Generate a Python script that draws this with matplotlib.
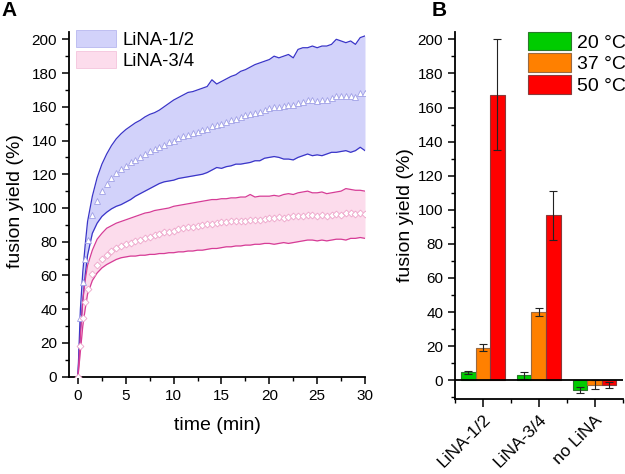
import matplotlib
matplotlib.use("Agg")
import matplotlib.pyplot as plt
import matplotlib.transforms as mtransforms
from matplotlib.patches import Patch
from matplotlib.ticker import MultipleLocator, FixedLocator

plt.rcParams['font.family'] = ['Liberation Sans', 'DejaVu Sans']

# ---------------- Panel A data (time course) ----------------
time_min = [0, 0.25, 0.5, 0.75, 1, 1.5, 2, 2.5, 3, 3.5, 4, 4.5, 5, 5.5, 6, 6.5, 7, 7.5,
            8, 8.5, 9, 9.5, 10, 10.5, 11, 11.5, 12, 12.5, 13, 13.5, 14, 14.5, 15, 15.5,
            16, 16.5, 17, 17.5, 18, 18.5, 19, 19.5, 20, 20.5, 21, 21.5, 22, 22.5, 23, 23.5,
            24, 24.5, 25, 25.5, 26, 26.5, 27, 27.5, 28, 28.5, 29, 29.5, 30]

lina12_mean = [0, 35, 56, 70, 81, 96, 104, 110, 114.5, 118, 121, 123, 125, 127, 128.5, 130, 132, 133.5,
               135, 136, 137.5, 139, 140, 141.5, 142.5, 143.5, 144.5, 145, 146, 147, 148.5, 149, 150, 151,
               152, 153, 154, 155, 155.5, 156.5, 157, 158, 159, 160, 160, 160.5, 161, 161, 162, 163,
               164, 164, 163.5, 164, 164, 165, 166.5, 166.5, 166.5, 166.5, 166, 168, 168]
lina12_upper = [1, 40, 62, 78, 92, 107, 118, 126, 132, 137, 141, 144, 146.5, 148.5, 150.5, 152, 154, 155.5,
                156.5, 158, 160, 162, 164, 165.5, 167, 168.5, 169, 170, 171, 172, 176, 173.5, 175, 176.5,
                178, 179, 181, 182, 183.5, 185, 186, 187, 188, 190, 189, 190, 191, 189, 194, 195,
                195, 196, 195, 196, 196, 197, 200, 199, 198, 199, 197, 201, 202]
lina12_lower = [1, 28, 45, 60, 72, 85, 91, 95, 97.5, 99.5, 101, 102, 103.5, 105, 107, 108.5, 110, 111.5,
                113, 114.5, 115.5, 116, 116.5, 117.5, 118, 118.5, 119, 119.5, 120, 121, 122.5, 124, 123.5, 124.5,
                125, 126, 126, 126.5, 127, 128, 128, 129.5, 130, 130.5, 130, 129, 129, 128.5, 130, 131,
                132, 131, 131.5, 131, 132, 133, 133, 133.5, 134, 133, 134, 136, 134]

lina34_mean = [0, 18, 35, 44, 52, 61, 66.5, 69.5, 72, 74.5, 76, 77.5, 78.5, 79.5, 80.5, 81, 82, 83,
               84, 84.5, 85.5, 86, 86.5, 87.5, 88, 88.5, 89, 89.5, 90, 90.5, 90.5, 91, 91.5, 91.5,
               92, 92, 92.5, 92.5, 93, 93, 93, 93.5, 94, 94, 94.5, 94, 94.5, 95, 95, 95.5,
               96, 96, 95.5, 96, 95.5, 96, 96.5, 96, 97, 97, 96.5, 97, 96.5]
lina34_upper = [0, 24, 45, 57, 66, 75, 81.5, 85, 88, 89.5, 91, 92, 93, 94, 95, 96, 97, 97.5,
                98.5, 99, 99.5, 100, 101, 101.5, 102, 102.5, 103, 103.5, 104, 104.5, 105, 105, 105.5, 105.5,
                106, 106, 106.5, 106.5, 108, 106.5, 107, 107, 107, 107.5, 107, 108, 108.5, 108, 109, 109.5,
                110, 109, 109, 109.5, 108.5, 109, 109.5, 110, 111.5, 111, 110.5, 110.5, 110]
lina34_lower = [0, 15, 30, 40, 49, 57, 61.5, 64.5, 66.5, 68, 69.5, 70.5, 71, 71.5, 71.5, 72, 72, 72.5,
                72.5, 73, 73, 73.5, 73.5, 74, 74, 74.5, 74.5, 75, 75, 75.5, 76, 76, 76.5, 77,
                77, 77.5, 77.5, 78, 78, 78.5, 78.5, 79, 79, 78.5, 79, 79.5, 79, 79.5, 80, 80.5,
                81, 81, 80.5, 81, 80.5, 81, 81.5, 81.5, 81, 82, 82, 82.5, 82]

series_labels = ["LiNA-1/2", "LiNA-3/4"]

# ---------------- Panel B data (bars) ----------------
bar_categories = ["LiNA-1/2", "LiNA-3/4", "no LiNA"]
temp_labels = ["20 °C", "37 °C", "50 °C"]
yield_20 = [4.7, 2.8, -5.6]
yield_37 = [19.0, 39.8, -2.7]
yield_50 = [167.5, 96.8, -2.9]
err_20 = [0.8, 2.0, 1.6]
err_37 = [2.0, 2.3, 2.6]
err_50 = [32.7, 14.5, 1.8]

# ---------------- Figure ----------------
fig = plt.figure(figsize=(6.25, 4.74), dpi=100)
W, H = 625, 474

def box(x0, y0, x1, y1):
    return [x0 / W, 1 - y1 / H, (x1 - x0) / W, (y1 - y0) / H]

axA = fig.add_axes(box(69, 31.7, 365, 376.7))
axB = fig.add_axes(box(455, 31.7, 622.5, 399))

blue_line = "#3a35c8"
blue_fill = "#d2d2fa"
pink_line = "#d63c96"
pink_fill = "#fcdcec"

axA.fill_between(time_min, lina12_lower, lina12_upper, color=blue_fill, lw=0, zorder=1)
axA.fill_between(time_min, lina34_lower, lina34_upper, color=pink_fill, lw=0, zorder=1)
for arr in (lina12_upper, lina12_lower):
    axA.plot(time_min, arr, color=blue_line, lw=0.9, zorder=2)
for arr in (lina34_upper, lina34_lower):
    axA.plot(time_min, arr, color=pink_line, lw=0.9, zorder=2)
axA.plot(time_min, lina12_mean, ls='none', marker='^', ms=4.4, mfc='white',
         mec='#a0a0e6', mew=0.6, zorder=3)
axA.plot(time_min, lina34_mean, ls='none', marker='D', ms=3.5, mfc='white',
         mec='#eea4ca', mew=0.6, zorder=3)

axA.set_xlim(-0.94, 30)
axA.set_ylim(0, 204.5)
axA.xaxis.set_major_locator(MultipleLocator(5))
axA.xaxis.set_minor_locator(MultipleLocator(2.5))
axA.yaxis.set_major_locator(MultipleLocator(20))
axA.yaxis.set_minor_locator(MultipleLocator(10))
axA.set_xlabel("time (min)", fontsize=14)
axA.xaxis.set_label_coords(0.5, -0.117)
axA.set_ylabel("fusion yield (%)", fontsize=14)
axA.yaxis.set_label_coords(-0.152, 0.51)

leg_handles = [Patch(facecolor=blue_fill, edgecolor='#b8b8f0', lw=0.6),
               Patch(facecolor=pink_fill, edgecolor='#f4c4dc', lw=0.6)]
axA.legend(leg_handles, series_labels, loc='upper left', bbox_to_anchor=(0.024, 1.005),
           frameon=False, fontsize=13.3, handlelength=2.15, handleheight=1.0,
           labelspacing=0.15, handletextpad=0.35, borderaxespad=0.0, borderpad=0.0)

# Panel B bars
xpos = [0, 1, 2]
bw = 0.26
bar_sets = [(yield_20, err_20, "#00cc00", "#2a7a2a"),
            (yield_37, err_37, "#ff8000", "#9a6a40"),
            (yield_50, err_50, "#ff0000", "#8a3a3a")]
offsets = [-bw, 0, bw]
for (vals, errs, fc, ec), off in zip(bar_sets, offsets):
    axB.bar([p + off for p in xpos], vals, width=bw, color=fc, edgecolor=ec, lw=0.8, zorder=2)
    axB.errorbar([p + off for p in xpos], vals, yerr=errs, fmt='none', ecolor='#222222',
                 elinewidth=0.8, capsize=3.2, capthick=0.8, zorder=3)
axB.axhline(0, color='black', lw=1.3, zorder=4)
axB.set_xlim(-0.5, 2.5)
axB.set_ylim(-11, 204.5)
axB.yaxis.set_major_locator(MultipleLocator(20))
axB.yaxis.set_minor_locator(MultipleLocator(10))
axB.set_xticks(xpos)
axB.set_xticklabels(bar_categories, rotation=45, ha='right', rotation_mode='anchor', fontsize=12.5)
axB.xaxis.set_minor_locator(FixedLocator([-0.5, 0.5, 1.5, 2.5]))
axB.set_ylabel("fusion yield (%)", fontsize=14, labelpad=3)
shift = mtransforms.ScaledTranslation(5 / 100, -1 / 100, fig.dpi_scale_trans)
for lab in axB.get_xticklabels():
    lab.set_transform(lab.get_transform() + shift)

legB = [Patch(facecolor=c, edgecolor=e, lw=0.8) for (_, _, c, e) in bar_sets]
axB.legend(legB, temp_labels, loc='upper left', bbox_to_anchor=(0.436, 1.0), frameon=False,
           fontsize=14, handlelength=2.2, handleheight=1.08, labelspacing=0.1,
           handletextpad=0.3, borderaxespad=0.0, borderpad=0.0)

for ax in (axA, axB):
    for s in ('top', 'right'):
        ax.spines[s].set_visible(False)
    for s in ('left', 'bottom'):
        ax.spines[s].set_linewidth(1.3)
    ax.tick_params(which='major', direction='out', length=5, width=1.1, labelsize=11, colors='black')
    ax.tick_params(which='minor', direction='out', length=3, width=1.0)
axB.tick_params(axis='x', which='major', labelsize=12.5, length=6)

fig.text(9 / W, 1 - 11 / H, "A", fontsize=15, fontweight='bold', va='center', ha='center')
fig.text(439 / W, 1 - 11 / H, "B", fontsize=15, fontweight='bold', va='center', ha='center')

fig.savefig("out.png", dpi=100)
